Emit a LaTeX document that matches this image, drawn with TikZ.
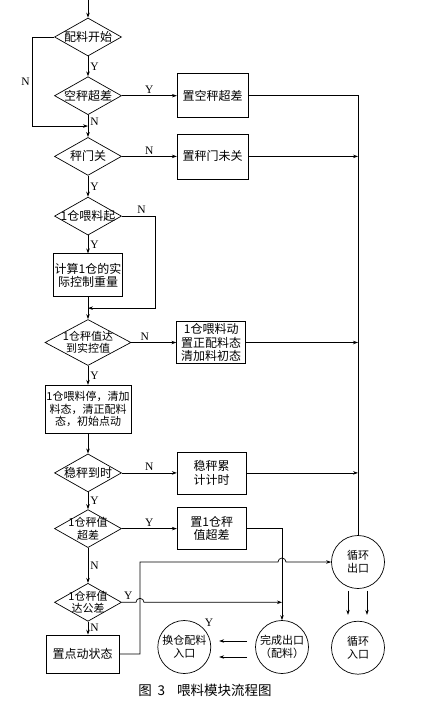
\documentclass[tikz,border=0pt]{standalone}
\usepackage{fontspec}
\setmainfont{Liberation Serif}
\newfontfamily\cjk{Noto Sans CJK SC}
\usetikzlibrary{calc,arrows.meta,positioning,shapes.geometric}
\tikzset{
    every node/.style={font=\cjk\fontsize{12}{13.5}\selectfont},
    every label/.style={align=center,inner sep=0pt},
    small text/.style={font=\cjk\fontsize{11}{12.5}\selectfont},
    decision node/.style={draw,diamond,inner sep=0pt,minimum width=67pt,minimum height=38pt},
    process node/.style={draw,rectangle,align=center,inner sep=1pt,minimum width=69pt,minimum height=42pt},
    port node/.style={draw,circle,align=center,inner sep=0pt,minimum size=53pt,small text},
    yn/.style={font=\rmfamily\fontsize{11.5}{12}\selectfont,inner sep=2pt}
}
\begin{document}
\begin{tikzpicture}[->,>={Stealth[length=5pt,width=3.5pt]},x=1pt,y=-1pt,line width=0.7pt]
    \useasboundingbox (0,0) rectangle (425,705);

        % main column
        \node[decision node,label={center:配料开始}] (1) at (88,37) {};
        \node[decision node,label={center:空秤超差}] (2) [below=20pt of 1] {};
        \node[decision node,label={center:秤门关}] (3) [below=22pt of 2] {};
        \node[decision node,label={center:1仓喂料起}] (4) [below=21pt of 3] {};
        \node[process node,minimum width=65pt,minimum height=43pt] (13) [below=18pt of 4] {计算1仓的实\\际控制重量};
        \node[decision node,minimum width=86pt,minimum height=46pt,label={[small text]center:1仓秤值达\\到实控值}] (5) [below=22pt of 13] {};
        \node[process node,small text,minimum width=86pt,minimum height=48pt] (15) [below=19pt of 5] {1仓喂料停，清加\\料态，清正配料\\态，初始点动};
        \node[decision node,label={center:稳秤到时}] (6) [below=20pt of 15] {};
        \node[decision node,label={[small text]center:1仓秤值\\超差}] (7) [below=17pt of 6] {};
        \node[decision node,label={[small text]center:1仓秤值\\达公差}] (8) [below=35pt of 7] {};
        \node[process node,minimum width=73pt,minimum height=38pt,xshift=-5.5pt] (18) [below=13pt of 8] {置点动状态};

        % right hand boxes
        \node[process node,minimum width=71pt,minimum height=44pt] (11) [right=55pt of 2] {置空秤超差};
        \node[process node,minimum width=71pt,minimum height=45pt] (12) [right=55pt of 3] {置秤门未关};
        \node[process node] (14) [right=45pt of 5] {1仓喂料动\\置正配料态\\清加料初态};
        \node[process node] (16) [right=55pt of 6] {稳秤累\\计计时};
        \node[process node] (17) [right=55pt of 7] {置1仓秤\\值超差};

        % exits
        \node[port node] (21) at (358,562) {循环\\出口};
        \node[port node] (22) [below=32pt of 21] {循环\\入口};
        \node[port node] (23) at (282,647) {完成出口\\（配料）};
        \node[port node,label={[yn,label distance=-1pt]45:Y}] (24) [left=44pt of 23] {换仓配料\\入口};

        \node (cap) at (205,690) {\fontsize{13.5}{14}\selectfont 图\hspace{6pt}3\hspace{12pt}喂料模块流程图};

        \coordinate (top) at (88,0);
        \coordinate[below=11pt of 2] (j1);
        \coordinate[below=11pt of 13] (j2);
        \coordinate (k) at (140,0);

        \draw (top) -- (1.north);
        \draw (1) -- node[yn,right] {Y} (2);
        \draw (1.west) -- ++(-22,0) |- node[yn,left,pos=0.25] {N} (j1);
        \draw (2) -- node[yn,right,pos=0.3] {N} (3);
        \draw (2) -- node[yn,above] {Y} (11);
        \draw[-] (11) -| (21);
        \draw (3) -- node[yn,above] {N} (12);
        \draw (12) -- (12 -| 21);
        \draw (3) -- node[yn,right] {Y} (4);
        \draw (4) -- node[yn,right] {Y} (4 |- 13.north);
        \draw (4.east) -- node[yn,above,pos=0.6] {N} ++(33,0) |- (j2);
        \draw (13) -- (5);
        \draw (5) -- node[yn,above,pos=0.3] {N} (14);
        \draw (14) -- (14 -| 21);
        \draw (5) -- node[yn,right] {Y} (15);
        \draw (15) -- (6);
        \draw (6) -- node[yn,above] {N} (16);
        \draw (16) -- (16 -| 21);
        \draw (6) -- node[yn,right] {Y} (7);
        \draw (7) -- node[yn,above] {Y} (17);
        \draw (17) -| (23);
        \draw (7) -- node[yn,right] {N} (8);
        \draw (8) -- node[yn,right] {N} (8 |- 18.north);
        \draw (8.east) -- node[yn,above,pos=0.45] {Y} ([xshift=-4pt]k |- 8) arc[start angle=180,end angle=0,radius=4pt] -- (23 |- 8);
        \draw (18.east) -- (k |- 18.east) -- (k |- 21) -- ([xshift=-4pt]23 |- 21) arc[start angle=180,end angle=0,radius=4pt] -- (21.west);
        \draw[shorten <=2pt,shorten >=6pt] ([xshift=-10pt]21.south) -- ([xshift=-10pt]22.north);
        \draw[shorten <=2pt,shorten >=6pt] ([xshift=9pt]21.south) -- ([xshift=9pt]22.north);
        \draw[shorten <=8pt,shorten >=8pt] ([yshift=6pt]23.west) -- ([yshift=6pt]24.east);
        \draw[shorten <=8pt,shorten >=8pt] ([yshift=-10pt]23.west) -- ([yshift=-10pt]24.east);
      \end{tikzpicture}
\end{document}
